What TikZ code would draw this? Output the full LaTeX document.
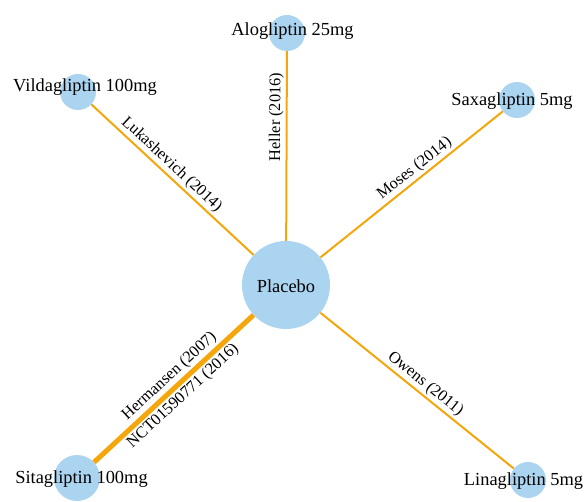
\documentclass[tikz,border=0pt]{standalone}
\usepackage{fontspec}
\setmainfont{Liberation Serif}
\definecolor{edgeor}{RGB}{245,166,10}
\definecolor{nodeblue}{RGB}{170,212,240}
\begin{document}
\begin{tikzpicture}[x=1pt,y=1pt,
  trt/.style={circle, fill=nodeblue, inner sep=0pt, minimum size=36pt},
  lab/.style={font=\fontsize{18.4}{20}\selectfont, anchor=base, inner sep=0pt},
  elab/.style={font=\fontsize{16.3}{18}\selectfont, sloped, inner sep=2pt},
  link/.style={draw=edgeor, line width=2pt},
  thicklink/.style={draw=edgeor, line width=5pt},
]
\useasboundingbox (0,0) rectangle (586,501);
% treatment circles
\node[trt, minimum size=88pt] (P) at (286,216) {};
\node[trt] (A) at (287,468) {};
\node[trt] (V) at (78,409) {};
\node[trt] (S) at (517,401) {};
\node[trt, minimum size=46pt] (T) at (77,23) {};
\node[trt] (L) at (528,21) {};
% connectors
\draw[link] (P) -- (A) node[elab, pos=0.652, above] {Heller (2016)};
\draw[link] (V) -- (P) node[elab, pos=0.451, above] {Lukashevich (2014)};
\draw[link] (P) -- (S) node[elab, pos=0.552, above] {Moses (2014)};
\draw[link] (P) -- (L) node[elab, pos=0.509, above] {Owens (2011)};
\draw[thicklink] (T) -- (P)
  node[elab, pos=0.524, above] {Hermansen (2007)}
  node[elab, pos=0.508, below] {NCT01590771 (2016)};
% treatment labels
\node[lab] (Pt) at (286,208) {Placebo};
\node[lab] (At) at (292.5,465) {Alogliptin 25mg};
\node[lab] (Vt) at (85,409) {Vildagliptin 100mg};
\node[lab] (St) at (512,395) {Saxagliptin 5mg};
\node[lab] (Tt) at (81.5,18) {Sitagliptin 100mg};
\node[lab] (Lt) at (523.5,16) {Linagliptin 5mg};
\end{tikzpicture}
\end{document}
